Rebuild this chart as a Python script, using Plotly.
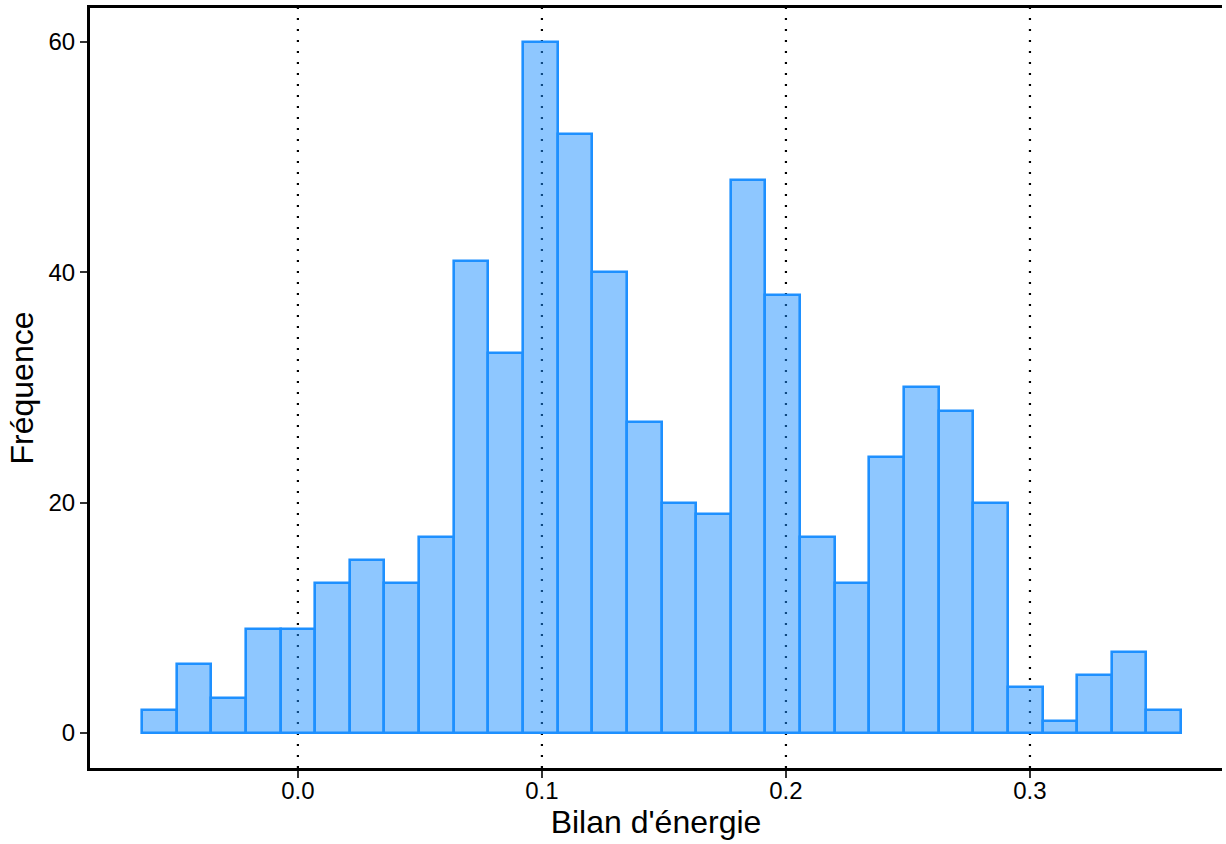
import plotly.graph_objects as go

# Histogram of energy balance: 30 equal-width bins
bin_start = -0.0639
bin_width = 0.014194
counts = [2, 6, 3, 9, 9, 13, 15, 13, 17, 41, 33, 60, 52, 40, 27,
          20, 19, 48, 38, 17, 13, 24, 30, 28, 20, 4, 1, 5, 7, 2]
ref_lines = [0.0, 0.1, 0.2, 0.3]
x_ticks = [0.0, 0.1, 0.2, 0.3]
y_ticks = [0, 20, 40, 60]

centers = [bin_start + bin_width * (i + 0.5) for i in range(len(counts))]

fig = go.Figure()
fig.add_trace(go.Bar(
    x=centers, y=counts, width=bin_width,
    marker=dict(color="rgba(30,144,255,0.5)",
                line=dict(color="#1E90FF", width=2.6)),
    showlegend=False, hoverinfo="x+y",
))

for v in ref_lines:
    fig.add_shape(type="line", x0=v, x1=v, y0=0, y1=1, yref="paper",
                  layer="below", line=dict(color="black", width=2.2, dash="2px,9px"))

axis_font = dict(family="Liberation Sans", size=24, color="black")
title_font = dict(family="Liberation Sans", size=32, color="black")

fig.update_layout(
    width=1226, height=844,
    margin=dict(l=90, r=4, t=8, b=76),
    plot_bgcolor="white", paper_bgcolor="white",
    bargap=0,
    xaxis=dict(
        range=[-0.0852, 0.3787], tickvals=x_ticks,
        ticktext=[f"{t:.1f}" for t in x_ticks],
        showgrid=False, zeroline=False,
        showline=True, linecolor="black", linewidth=3, mirror=True,
        ticks="outside", ticklen=7, tickwidth=2.4, tickcolor="#333333",
        tickfont=axis_font, ticklabelstandoff=-8,
        title=dict(text="Bilan d'énergie", font=title_font, standoff=2),
    ),
    yaxis=dict(
        range=[-3.04, 62.95], tickvals=y_ticks,
        showgrid=False, zeroline=False,
        showline=True, linecolor="black", linewidth=3,
        ticks="outside", ticklen=7, tickwidth=2.4, tickcolor="#333333",
        tickfont=axis_font,
        title=dict(text="Fréquence", font=title_font, standoff=6),
    ),
)

fig.write_html("out.html")
